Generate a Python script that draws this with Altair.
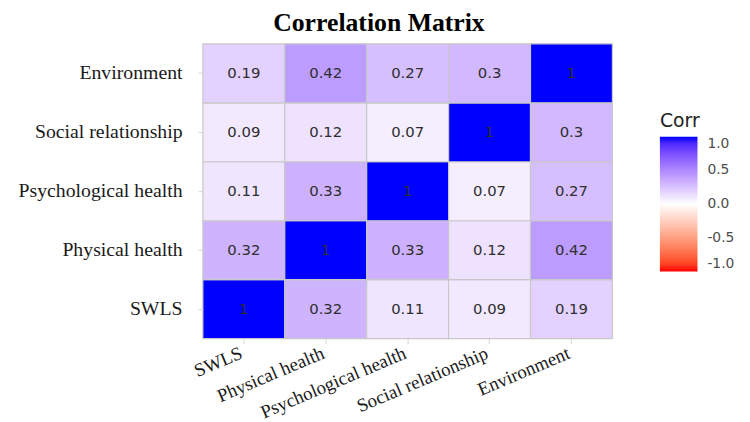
import altair as alt
import pandas as pd

variables = ["SWLS", "Physical health", "Psychological health", "Social relationship", "Environment"]

# correlation rows, same order as variables
corr_swls = [1, 0.32, 0.11, 0.09, 0.19]
corr_physical = [0.32, 1, 0.33, 0.12, 0.42]
corr_psych = [0.11, 0.33, 1, 0.07, 0.27]
corr_social = [0.09, 0.12, 0.07, 1, 0.3]
corr_env = [0.19, 0.42, 0.27, 0.3, 1]
matrix = [corr_swls, corr_physical, corr_psych, corr_social, corr_env]

legend_values = [1.0, 0.5, 0.0, -0.5, -1.0]

records = []
for i, yv in enumerate(variables):
    for j, xv in enumerate(variables):
        v = matrix[i][j]
        records.append({"x": xv, "y": yv, "corr": v, "label": f"{v:g}"})
df = pd.DataFrame(records)

serif = "Liberation Serif"
sans = "DejaVu Sans"

base = alt.Chart(df).encode(
    x=alt.X(
        "x:N", sort=variables, title=None,
        scale=alt.Scale(paddingInner=0, paddingOuter=0),
        axis=alt.Axis(labelAngle=337, labelAlign="right", labelBaseline="top",
                      labelFont=serif, labelFontSize=19, labelColor="#1a1a1a",
                      domain=False, ticks=True, tickColor="#d4d4d4", tickSize=5,
                      labelPadding=0, labelOffset=-6, grid=False),
    ),
    y=alt.Y(
        "y:N", sort=variables[::-1], title=None,
        scale=alt.Scale(paddingInner=0, paddingOuter=0),
        axis=alt.Axis(labelFont=serif, labelFontSize=20, labelColor="#1a1a1a",
                      domain=False, ticks=True, tickColor="#d4d4d4", tickSize=5,
                      labelPadding=16, grid=False),
    ),
)

rect = base.mark_rect(stroke="#c8c8c8", strokeWidth=1.2).encode(
    color=alt.Color(
        "corr:Q", title="Corr",
        scale=alt.Scale(domain=[-1, 0, 1], range=["red", "white", "blue"], interpolate="lab"),
        legend=alt.Legend(
            orient="none", legendX=462, legendY=69, direction="vertical",
            gradientLength=136, gradientThickness=38, gradientStrokeWidth=0,
            values=legend_values, format=".1f",
            labelExpr="replace(datum.label, '\u2212', '-')",
            titleFont=sans, titleFontSize=19, titleFontWeight="normal", titleColor="#222222",
            titlePadding=6,
            labelFont=sans, labelFontSize=14, labelColor="#4d4d4d", labelOffset=10,
        ),
    )
)

text = base.mark_text(font=sans, fontSize=15, color="#2e2e2e").encode(text="label:N")

chart = (rect + text).properties(
    width=414, height=298,
    title=alt.TitleParams("Correlation Matrix", font=serif, fontSize=26, fontWeight="bold",
                          color="black", anchor="middle", dx=-29, dy=-3),
    autosize=alt.AutoSizeParams(type="none"),
    padding={"left": 197, "top": 34, "right": 131, "bottom": 82},
).configure_view(stroke=None)

chart.save("out.html", embed_options={"renderer": "svg", "actions": False})
